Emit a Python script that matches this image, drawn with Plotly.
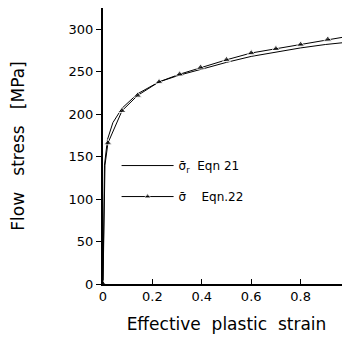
import plotly.graph_objects as go

# Eqn 21 (plain line)
strain_21 = [0, 0.006, 0.018, 0.04, 0.077, 0.14, 0.227, 0.31, 0.4, 0.5, 0.6, 0.7, 0.8, 0.9, 1.0]
stress_21 = [0, 140, 170, 190, 207, 224, 238, 246, 253, 261, 268, 273, 278, 282, 285]

# Eqn 22 (line with triangle markers)
strain_22 = [0, 0.008, 0.02, 0.077, 0.14, 0.227, 0.31, 0.395, 0.5, 0.6, 0.7, 0.8, 0.91, 1.0]
stress_22 = [0, 140, 166, 204, 222, 238, 247, 255, 264, 272, 277, 282, 288, 292]
marker_sizes_22 = [7, 0, 7, 7, 7, 7, 7, 7, 7, 7, 7, 7, 7, 0]

x_ticks = [0, 0.2, 0.4, 0.6, 0.8]
x_tick_labels = ["0", "0.2", "0.4", "0.6", "0.8"]
y_ticks = [0, 50, 100, 150, 200, 250, 300]

font = "DejaVu Sans"

fig = go.Figure()
fig.add_trace(go.Scatter(
    x=strain_21, y=stress_21, mode="lines",
    line=dict(color="black", width=1),
    name="σ\u0304<sub>r</sub>  Eqn 21", legendgroup="a",
))
fig.add_trace(go.Scatter(
    x=strain_22, y=stress_22, mode="lines+markers",
    line=dict(color="black", width=1),
    marker=dict(symbol="triangle-up", size=marker_sizes_22, color="black"),
    name="σ\u0304    Eqn.22", legendgroup="b",
))

fig.update_layout(
    width=342, height=326,
    margin=dict(l=95, r=0, t=0, b=50),
    paper_bgcolor="white", plot_bgcolor="white",
    font=dict(family=font, color="black", size=13),
    showlegend=True,
    legend=dict(
        x=0.055, y=0.373, xanchor="left", yanchor="middle",
        bgcolor="rgba(0,0,0,0)", font=dict(size=12, family=font),
        itemwidth=52, tracegroupgap=12,
    ),
    xaxis=dict(
        range=[0, 1.0], tickvals=x_ticks, ticktext=x_tick_labels,
        ticks="inside", ticklen=5, tickcolor="black",
        showline=True, linecolor="black", linewidth=1.5,
        showgrid=False, zeroline=False,
        tickfont=dict(size=13),
        title=dict(text="Effective  plastic  strain", font=dict(size=17), standoff=18),
    ),
    yaxis=dict(
        range=[0, 325], tickvals=y_ticks,
        ticks="outside", ticklen=5, tickcolor="black",
        showline=True, linecolor="black", linewidth=2,
        showgrid=False, zeroline=False,
        tickfont=dict(size=13),
        title=dict(text="Flow   stress   [MPa]", font=dict(size=17), standoff=42),
    ),
)

fig.write_html("out.html")
